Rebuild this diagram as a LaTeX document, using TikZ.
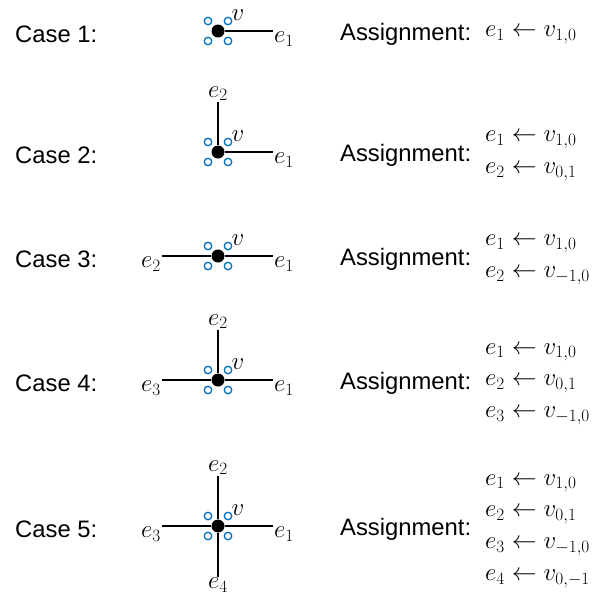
\documentclass[tikz,border=0pt]{standalone}
\usepackage[no-math]{fontspec}
\setmainfont{Liberation Sans}
\usepackage{xcolor}
\usepackage{amsmath}
\usepackage{tikz}
\usetikzlibrary{calc}
\usetikzlibrary{positioning}
\definecolor{slotblue}{RGB}{0,112,192}
\tikzset{
 casetxt/.style={anchor=west, inner sep=0, font=\fontsize{23.8}{28}\selectfont},
 asgn/.style={anchor=west, inner sep=0, align=left, font=\fontsize{26}{31.7}\selectfont},
 vdot/.style={circle, fill=black, minimum size=13pt, inner sep=0},
 slot/.style={circle, draw=slotblue, line width=1.3pt, minimum size=7.5pt, inner sep=0},
 elbl/.style={inner sep=1pt, font=\fontsize{26}{30}\selectfont},
 vlbl/.style={inner sep=0, font=\fontsize{26}{30}\selectfont},
 arm/.style={line width=1.6pt},
}
% vertex with its four slots and the label v
\newcommand{\vtx}[2]{%
 \node[vdot] (#1) at (#2) {};
 \foreach \dx/\dy [count=\k] in {-10/-10,10/-10,-10/10,10/10}
  \node[slot] (#1s\k) at ($(#1)+(\dx,\dy)$) {};
 \node[vlbl] (#1v) at ($(#1)+(20,-16)$) {$v$};
}

\begin{document}
\begin{tikzpicture}[x=1pt,y=-1pt]
\useasboundingbox (0,0) rectangle (596,605);

% case 1
\node[casetxt] (c1) at (15,34) {Case 1:};
\vtx{v1}{218,31}
\node[elbl, right=55pt of v1.center, anchor=north west] (v1e1) {$e_1$};
\draw[arm] (v1) -- (v1e1.north west);
\node[casetxt] (g1) at (340,34) {Assignment:};
\node[asgn] (m1) at (485,35) {$e_1 \leftarrow v_{1,0}$};

% case 2
\node[casetxt] (c2) at (15,155) {Case 2:};
\vtx{v2}{218,152}
\node[elbl, right=55pt of v2.center, anchor=north west] (v2e1) {$e_1$};
\node[elbl, above=50pt of v2.center, anchor=south] (v2e2) {$e_2$};
\draw[arm] (v2) -- (v2e1.north west);
\draw[arm] (v2) -- (v2e2.south);
\node[casetxt] (g2) at (340,155) {Assignment:};
\node[asgn] (m2) at (485,156) {$e_1 \leftarrow v_{1,0}$\\$e_2 \leftarrow v_{0,1}$};

% case 3
\node[casetxt] (c3) at (15,259) {Case 3:};
\vtx{v3}{218,256}
\node[elbl, right=55pt of v3.center, anchor=north west] (v3e1) {$e_1$};
\node[elbl, left=56pt of v3.center, anchor=north east] (v3e2) {$e_2$};
\draw[arm] (v3) -- (v3e1.north west);
\draw[arm] (v3) -- (v3e2.north east);
\node[casetxt] (g3) at (340,259) {Assignment:};
\node[asgn] (m3) at (485,260) {$e_1 \leftarrow v_{1,0}$\\$e_2 \leftarrow v_{-1,0}$};

% case 4
\node[casetxt] (c4) at (15,383) {Case 4:};
\vtx{v4}{218,380}
\node[elbl, right=55pt of v4.center, anchor=north west] (v4e1) {$e_1$};
\node[elbl, above=50pt of v4.center, anchor=south] (v4e2) {$e_2$};
\node[elbl, left=56pt of v4.center, anchor=north east] (v4e3) {$e_3$};
\draw[arm] (v4) -- (v4e1.north west);
\draw[arm] (v4) -- (v4e2.south);
\draw[arm] (v4) -- (v4e3.north east);
\node[casetxt] (g4) at (340,383) {Assignment:};
\node[asgn] (m4) at (485,384) {$e_1 \leftarrow v_{1,0}$\\$e_2 \leftarrow v_{0,1}$\\$e_3 \leftarrow v_{-1,0}$};

% case 5
\node[casetxt] (c5) at (15,529) {Case 5:};
\vtx{v5}{218,526}
\node[elbl, right=55pt of v5.center, anchor=north west] (v5e1) {$e_1$};
\node[elbl, above=50pt of v5.center, anchor=south] (v5e2) {$e_2$};
\node[elbl, left=56pt of v5.center, anchor=north east] (v5e3) {$e_3$};
\node[elbl, below=51pt of v5.center, anchor=north] (v5e4) {$e_4$};
\draw[arm] (v5) -- (v5e1.north west);
\draw[arm] (v5) -- (v5e2.south);
\draw[arm] (v5) -- (v5e3.north east);
\draw[arm] (v5) -- (v5e4.north);
\node[casetxt] (g5) at (340,529) {Assignment:};
\node[asgn] (m5) at (485,531) {$e_1 \leftarrow v_{1,0}$\\$e_2 \leftarrow v_{0,1}$\\$e_3 \leftarrow v_{-1,0}$\\$e_4 \leftarrow v_{0,-1}$};
\end{tikzpicture}
\end{document}
